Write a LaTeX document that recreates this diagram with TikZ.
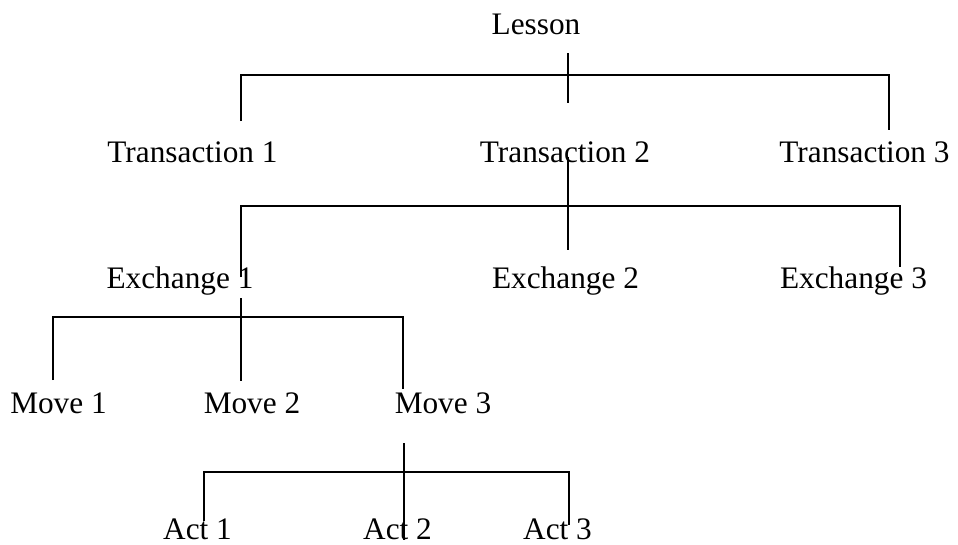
\documentclass[tikz,border=0pt]{standalone}
\usepackage{fontspec}
\setmainfont{Liberation Serif}

\begin{document}
\begin{tikzpicture}[x=1pt,y=-1pt,-,line width=1.6pt]
    \tikzstyle{unit}=[font=\fontsize{31.3}{36}\selectfont,inner sep=0pt,anchor=base]
    \useasboundingbox (0,0) rectangle (958,544);

    \node[unit] (Lesson) at (536,34) {Lesson};
    \foreach \num/\x in {1/192.5, 2/565, 3/864.5}
            \node[unit] (T-\num) at (\x,162) {Transaction \num};
    \foreach \num/\x in {1/180, 2/565.5, 3/853.5}
            \node[unit] (E-\num) at (\x,288) {Exchange \num};
    \foreach \num/\x in {1/58.5, 2/252, 3/443}
            \node[unit] (M-\num) at (\x,413) {Move \num};
    \foreach \num/\x in {1/197.5, 2/397.5, 3/557.5}
            \node[unit] (A-\num) at (\x,539) {Act \num};

        % brackets: stem x, stem top, stem bottom, bar y, left leg, right leg
        \foreach \b/\sx/\st/\sb/\by/\lx/\lb/\rx/\rb in
            {B-1/568/53/103/75/241/121/889/130,
             B-2/568/157/250/206/241/277/900/267,
             B-3/241/298/381/317/53/380/403/389,
             B-4/404/443/540/472/204/521/569/525}
        {
            \coordinate (\b-top) at (\sx,\st);
            \coordinate (\b-bot) at (\sx,\sb);
            \coordinate (\b-bar) at (\sx,\by);
            \coordinate (\b-l) at (\lx,\lb);
            \coordinate (\b-r) at (\rx,\rb);
            \draw (\b-top) -- (\b-bot);
            \draw (\b-l) |- (\b-bar) -| (\b-r);
        }
\end{tikzpicture}
\end{document}
